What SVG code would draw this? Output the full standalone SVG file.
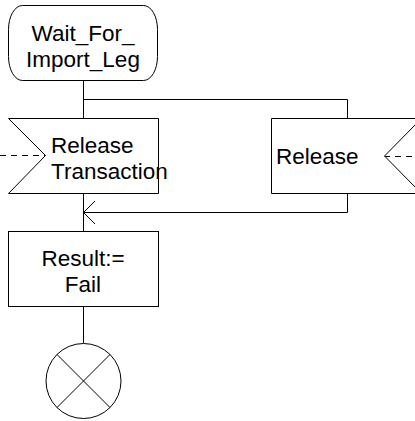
<svg xmlns="http://www.w3.org/2000/svg" width="415" height="421" viewBox="0 0 415 421">
<style>
.s{fill:#fff;stroke:#000;stroke-width:1}
.l{fill:none;stroke:#000;stroke-width:1}
.d{fill:none;stroke:#000;stroke-width:1;stroke-dasharray:6,5}
.t{font-family:"Liberation Sans",Arial,sans-serif;font-size:22.5px;fill:#000}
.c{text-anchor:middle}
</style>
<g id="connectors">
<path class="l" d="M83.5,81 V118"/>
<path class="l" d="M83.5,99.5 H347.5 V118"/>
<path class="l" d="M347.5,193 V212.5 H83.5"/>
<path class="l" d="M95,201 L83.5,212.5 L95,224"/>
<path class="l" d="M83.5,193 V231"/>
<path class="l" d="M83.5,306 V343"/>
<path class="d" d="M0,155.5 H45"/>
<path class="d" d="M384,156.5 H415"/>
</g>
<g id="state">
<rect class="s" x="8.5" y="5.5" width="149" height="75" rx="14" ry="24"/>
<text class="t c" x="83" y="41">Wait_For_</text>
<text class="t c" x="83" y="67">Import_Leg</text>
</g>
<g id="input1">
<path class="s" d="M8.5,118.5 H158.5 V193.5 H8.5 L45.5,155.5 Z"/>
<text class="t" x="51" y="153">Release</text>
<text class="t" x="51" y="179">Transaction</text>
</g>
<g id="input2">
<path class="s" d="M271.5,118.5 H421.5 L384.5,156 L421.5,193.5 H271.5 Z"/>
<text class="t" x="276" y="164">Release</text>
</g>
<g id="task">
<rect class="s" x="8.5" y="231.5" width="150" height="75"/>
<text class="t c" x="83" y="266">Result:=</text>
<text class="t c" x="83" y="292">Fail</text>
</g>
<g id="stop">
<circle class="s" cx="83.5" cy="381" r="37.5"/>
<path class="l" d="M57,354.5 L110,407.5 M110,354.5 L57,407.5"/>
</g>
</svg>
